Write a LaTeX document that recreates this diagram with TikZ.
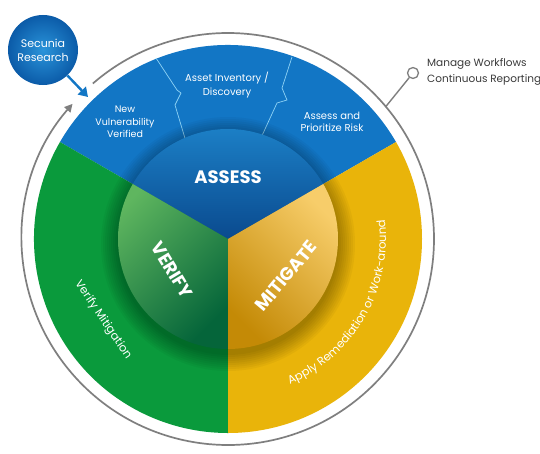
\documentclass[tikz,border=0pt]{standalone}
\usepackage{fontspec}
\setmainfont{Poppins}
\usetikzlibrary{arrows.meta,decorations.text}

\definecolor{oblue}{HTML}{1276C5}
\definecolor{ogreen}{HTML}{0A9A3C}
\definecolor{oyellow}{HTML}{E9B40A}
\definecolor{ibluetop}{HTML}{1E86CD}
\definecolor{iblueb}{HTML}{0A4A8E}
\definecolor{igreentop}{HTML}{5FB65F}
\definecolor{igreenmid}{HTML}{0E963F}
\definecolor{igreenb}{HTML}{05653A}
\definecolor{iyeltop}{HTML}{F7CD6A}
\definecolor{iyelmid}{HTML}{E9B00C}
\definecolor{iyelb}{HTML}{C48A06}
\definecolor{ringgray}{HTML}{7F7F7F}
\definecolor{zigblue}{HTML}{8FD3F5}
\definecolor{secin}{HTML}{2A94DA}
\definecolor{secout}{HTML}{0B5BA8}
\definecolor{txtgray}{HTML}{3A3A3A}

\tikzset{
  zig/.style={draw=zigblue, line width=0.7pt},
  ring/.style={draw=ringgray, line width=1.7pt},
  outlabel/.style={text=white, align=center, font=\fontsize{9.5}{12.5}\selectfont, inner sep=0pt},
  biglabel/.style={text=white, font=\bfseries\fontsize{18}{18}\selectfont, inner sep=0pt},
  secarrow/.style={draw=oblue, line width=2.4pt, -{Triangle[length=9pt,width=11pt]}},
}

\begin{document}
\begin{tikzpicture}[x=1pt,y=1pt]
\useasboundingbox (-228,-214) rectangle (312,239);
\fill[white] (-228,-214) rectangle (312,239);

% outer sectors
\fill[oblue] (0,0) -- (30:194) arc[start angle=30,end angle=150,radius=194] -- cycle;
\fill[ogreen] (0,0) -- (150:194) arc[start angle=150,end angle=270,radius=194] -- cycle;
\fill[oyellow] (0,0) -- (270:194) arc[start angle=270,end angle=390,radius=194] -- cycle;

% zigzag separators
\draw[zig] (-72,181) -- (-51,149) -- (-47,146) -- (-53,134) -- (-41,94);
\draw[zig] (64,182) -- (54,151) -- (59,139) -- (49,136) -- (32,99);

% shadow of the inner disc
\foreach \r in {111,113,...,127} \fill[black,opacity=0.035] (0,-5) circle (\r);

% inner disc
\shade[top color=ibluetop, bottom color=iblueb] (0,0) -- (30:110) arc[start angle=30,end angle=150,radius=110] -- cycle;
\shade[top color=igreentop, middle color=igreenmid, bottom color=igreenb, shading angle=45] (0,0) -- (150:110) arc[start angle=150,end angle=270,radius=110] -- cycle;
\shade[top color=iyeltop, middle color=iyelmid, bottom color=iyelb, shading angle=-45] (0,0) -- (270:110) arc[start angle=270,end angle=390,radius=110] -- cycle;

% big labels
\node[biglabel] (assess) at (0,62) {ASSESS};
\node[biglabel, rotate=-59] (verify) at (-56,-31) {VERIFY};
\node[biglabel, rotate=50] (mitigate) at (58,-37) {MITIGATE};

% outer labels
\node[outlabel] (newvul) at (-103,117) {New\\Vulnerability\\Verified};
\node[outlabel, font=\fontsize{10}{14}\selectfont] (asset) at (-1,154) {Asset Inventory /\\Discovery};
\node[outlabel, font=\fontsize{10}{12.5}\selectfont] (prior) at (104,117) {Assess and\\Prioritize Risk};
\node[outlabel, font=\fontsize{11.5}{12}\selectfont, rotate=-56] (vermit) at (-125,-81) {Verify Mitigation};
\path[decorate, decoration={text along path, text align=center,
  text={|\color{white}\fontsize{11.5}{12}\selectfont|Apply Remediation or Work-around}}]
  (-73:158) arc[start angle=-73,end angle=13,radius=158];

% gray ring with arrow
\draw[ring, -{Triangle[length=8pt,width=8pt]}] (131:206) arc[start angle=131,end angle=-221,radius=206];

% Secunia research
\node[circle, minimum size=70pt, inner sep=0pt, inner color=secin, outer color=secout,
  text=white, align=center, font=\fontsize{11}{14}\selectfont] (sec) at (-185,189) {Secunia\\Research};
\coordinate (sectip) at (-140,142);
\draw[secarrow] (sec) -- (sectip);

% manage workflows connector
\coordinate (ringpt) at (40:206);
\node[circle, draw=ringgray, line width=1.3pt, fill=white, minimum size=11pt, inner sep=0pt] (knob) at (185,166) {};
\draw[ring, line width=1.4pt] (ringpt) -- (knob);
\node[anchor=west, text=txtgray, align=left, inner sep=0pt, font=\fontsize{10.5}{15.5}\selectfont] (manage) at (199,167) {Manage Workflows\\Continuous Reporting};
\end{tikzpicture}
\end{document}
